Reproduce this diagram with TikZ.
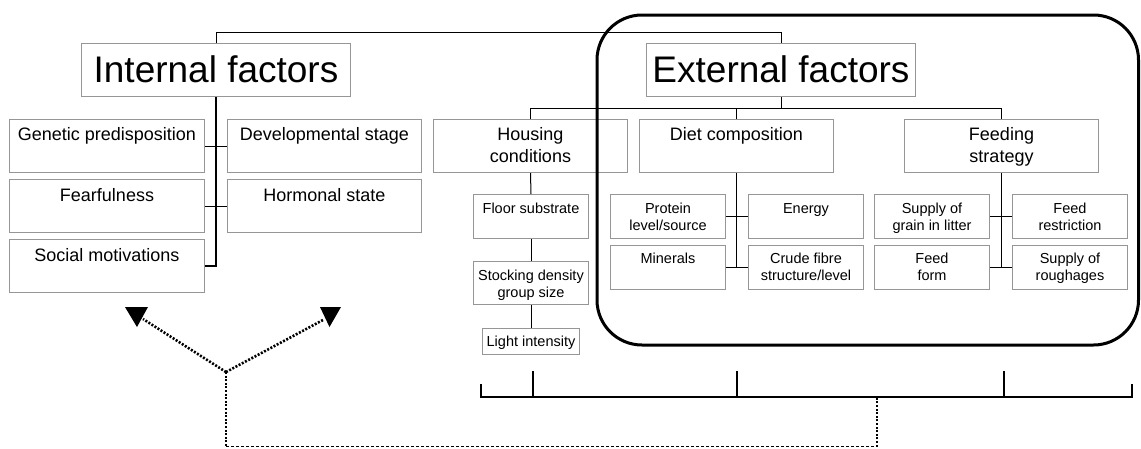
\documentclass[tikz,border=0pt]{standalone}
\usepackage{fontspec}
\setmainfont{Liberation Sans}
\newcommand{\bxt}[4]{\parbox[c][#2][t]{#1}{\centering\rule{0pt}{#3}#4\par}}
\definecolor{boxgray}{RGB}{150,150,150}
\begin{document}
\begin{tikzpicture}[x=1pt,y=-1pt,
  box/.style={draw=boxgray, line width=1pt, inner sep=0pt, anchor=north west},
  big/.style={font=\fontsize{37}{44}\selectfont},
  mid/.style={font=\fontsize{18}{21.7}\selectfont},
  sm/.style={font=\fontsize{14.5}{17}\selectfont},
  conn/.style={line width=1pt},
  trunk/.style={line width=1.6pt},
  brk/.style={line width=2pt},
  dotline/.style={line width=2.6pt, dash pattern=on 2pt off 1.6pt},
  tip/.style={fill=black, draw=none}]
\useasboundingbox (0,0) rectangle (1141,448);

% level 1
\node[box,big] (IF) at (81,43) {\bxt{269pt}{53pt}{39pt}{Internal factors}};
\node[box,big] (EF) at (646,43) {\bxt{269pt}{53pt}{39pt}{External factors}};

% internal sub boxes
\node[box,mid] (gen) at (9,119) {\bxt{195pt}{53pt}{21pt}{Genetic predisposition}};
\node[box,mid] (dev) at (227,119) {\bxt{194pt}{53pt}{21pt}{Developmental stage}};
\node[box,mid] (fear) at (9,179) {\bxt{195pt}{53pt}{21.5pt}{Fearfulness}};
\node[box,mid] (horm) at (227,179) {\bxt{194pt}{53pt}{21.5pt}{Hormonal state}};
\node[box,mid] (soc) at (9,239) {\bxt{195pt}{53pt}{22pt}{Social motivations}};

% external level 2
\node[box,mid] (hous) at (433,119) {\bxt{194pt}{53pt}{21pt}{Housing\\conditions}};
\node[box,mid] (diet) at (639,119) {\bxt{194pt}{53pt}{21pt}{Diet composition}};
\node[box,mid] (feed) at (904,119) {\bxt{194pt}{53pt}{21pt}{Feeding\\strategy}};

% housing
\node[box,sm] (floor) at (473,194) {\bxt{115pt}{44pt}{19pt}{Floor substrate}};
\node[box,sm] (stock) at (473,261) {\bxt{115pt}{43pt}{19pt}{Stocking density\\group size}};
\node[box,sm] (light) at (482,328) {\bxt{97pt}{26pt}{18pt}{Light intensity}};

% diet
\node[box,sm] (prot) at (610,194) {\bxt{115pt}{44pt}{19pt}{Protein\\level/source}};
\node[box,sm] (min) at (610,245) {\bxt{115pt}{44pt}{18pt}{Minerals}};
\node[box,sm] (energy) at (748,194) {\bxt{115pt}{44pt}{19pt}{Energy}};
\node[box,sm] (crude) at (748,245) {\bxt{115pt}{44pt}{18pt}{Crude fibre\\structure/level}};

% feeding
\node[box,sm] (grain) at (874,194) {\bxt{115pt}{44pt}{19pt}{Supply of\\grain in litter}};
\node[box,sm] (form) at (874,245) {\bxt{115pt}{44pt}{18pt}{Feed\\form}};
\node[box,sm] (restr) at (1012,194) {\bxt{115pt}{44pt}{19pt}{Feed\\restriction}};
\node[box,sm] (rough) at (1012,245) {\bxt{115pt}{44pt}{18pt}{Supply of\\roughages}};

% top connector
\draw[conn] (IF.north) -- ++(0,-11) -| (EF.north);

% internal tree
\draw[trunk] (IF.south) |- (soc.east);
\draw[conn] (gen.east) -- (dev.west);
\draw[conn] (fear.east) -- (horm.west);

% external tree
\draw[conn] (EF.south) -- ++(0,11) coordinate (ej);
\draw[conn] (hous.north) |- (ej);
\draw[conn] (feed.north) |- (ej);
\draw[conn] (diet.north) -- (diet.north |- ej);

% housing chain
\draw[conn] (hous.south) -- (floor.north);
\draw[conn] (floor.south) -- (stock.north);
\draw[conn] (stock.south) -- (light.north);

% diet tree
\draw[trunk] (diet.south) -- (diet.south |- min.east);
\draw[conn] (prot.east) -- (energy.west);
\draw[conn] (min.east) -- (crude.west);

% feeding tree
\draw[trunk] (feed.south) -- (feed.south |- form.east);
\draw[conn] (grain.east) -- (restr.west);
\draw[conn] (form.east) -- (rough.west);

% bracket
\coordinate (bl) at (481,384);
\coordinate (br) at (1132,384);
\coordinate (t1) at (533,371);
\coordinate (t2) at (737,371);
\coordinate (t3) at (1004,371);
\coordinate (bj) at (877,397);
\draw[brk] (bl) -- (481,397) -- (1132,397) -- (br);
\draw[brk] (t1) -- (533,397);
\draw[brk] (t2) -- (737,397);
\draw[brk] (t3) -- (1004,397);

% dotted arrows
\coordinate (fork) at (226,372);
\coordinate (la) at (143,319);
\coordinate (ra) at (323,320);
\draw[dotline] (fork) -- (la);
\draw[dotline] (fork) -- (ra);
\fill[tip] (125,307) -- (148,307) -- (137,327) -- cycle;
\fill[tip] (320,307) -- (341,307) -- (329.5,327) -- cycle;
\draw[dotline] (fork) -- (226,446.5);
\draw[line width=1.5pt, dash pattern=on 3pt off 2pt] (226,446.5) -- (877,446.5);
\draw[dotline] (877,446.5) -- (bj);

% rounded frame
\draw[line width=3pt, rounded corners=45pt] (597,15) rectangle (1138.5,345);
\end{tikzpicture}
\end{document}
